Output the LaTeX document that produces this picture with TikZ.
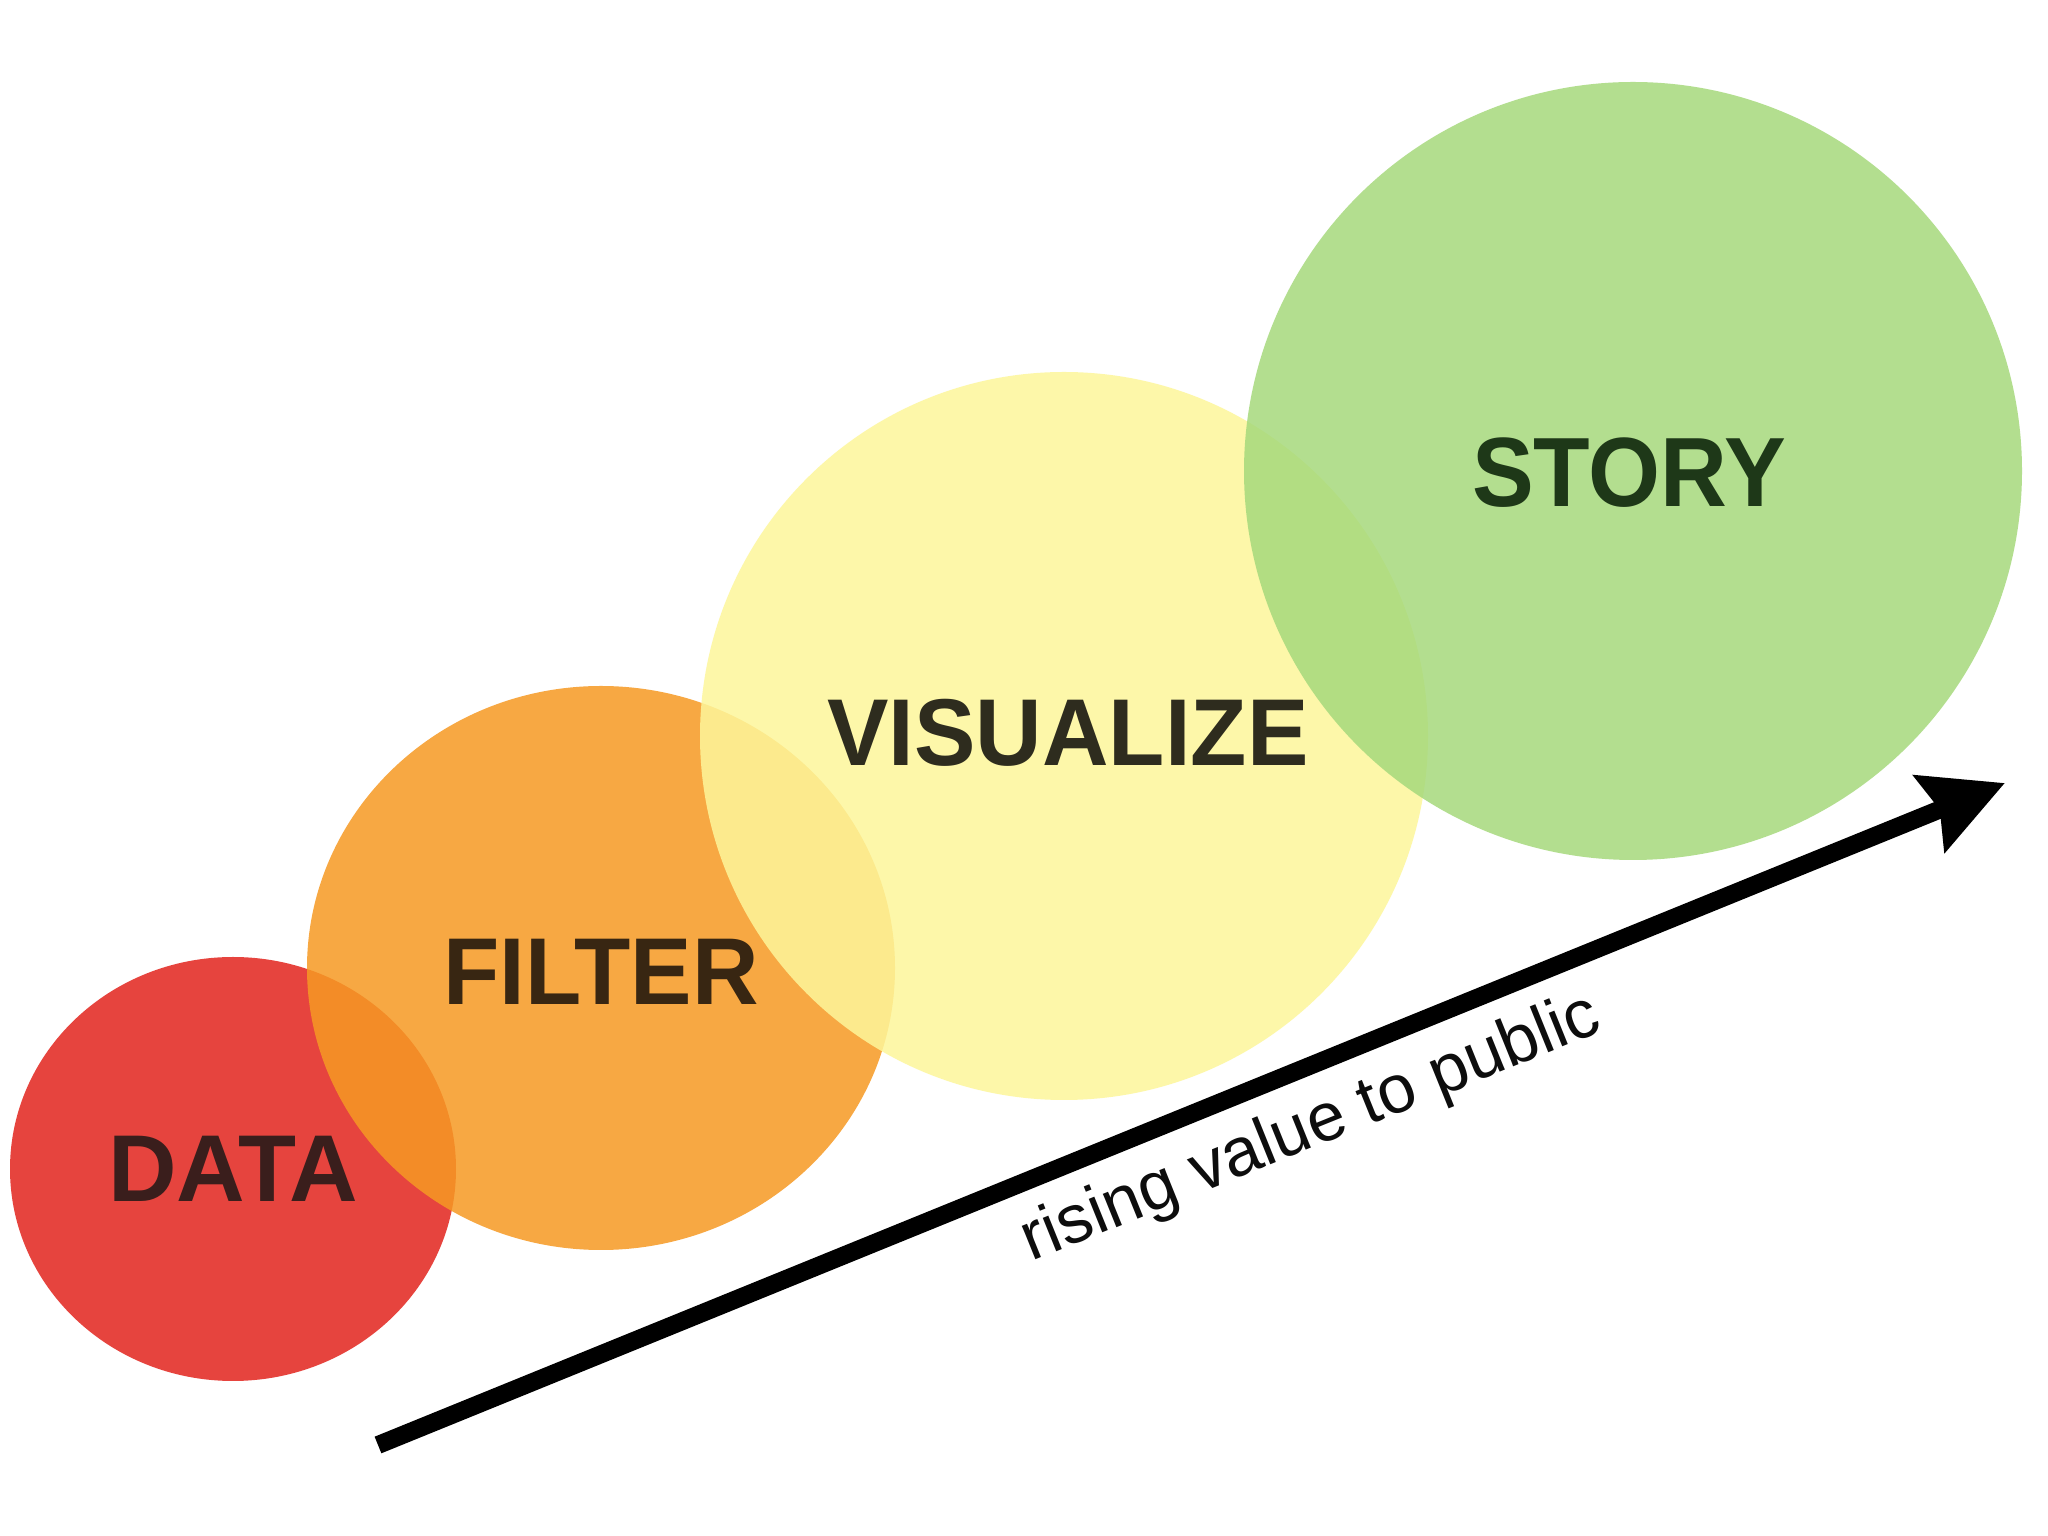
\documentclass[tikz,border=0pt]{standalone}
\usepackage{fontspec}
\usepackage{graphicx}
\setmainfont{Liberation Sans}
\usetikzlibrary{arrows.meta}
\definecolor{cred}{RGB}{226,36,29}
\definecolor{corange}{RGB}{246,153,35}
\definecolor{cyellow}{RGB}{253,246,154}
\definecolor{cgreen}{RGB}{166,217,124}
\definecolor{tdata}{RGB}{58,30,28}
\definecolor{tfilter}{RGB}{56,38,18}
\definecolor{tvis}{RGB}{46,44,30}
\definecolor{tstory}{RGB}{30,56,24}
\newcommand{\narrowtxt}[2][0.97]{\scalebox{#1}[1]{#2}}
\tikzset{
  bubble/.style={fill opacity=0.85, draw=none},
  biglabel/.style={font=\bfseries\fontsize{27}{30}\selectfont, inner sep=0pt},
  risearrow/.style={line width=5.1pt, -{Stealth[length=23pt, width=23pt, inset=3pt]}},
  risetext/.style={font=\fontsize{19.4}{22}\selectfont, text=black!95, anchor=base, inner sep=0pt, rotate=22}
}
\begin{document}
\begin{tikzpicture}[x=0.01cm, y=0.01cm]
\useasboundingbox (0,0) rectangle (2048,1536);
\fill[white] (0,0) rectangle (2048,1536);
% bubbles
\fill[bubble, cred] (233,367) ellipse [x radius=223, y radius=212];
\fill[bubble, corange] (601,568) ellipse [x radius=294, y radius=282];
\fill[bubble, cyellow] (1064,800) circle [radius=364];
\fill[bubble, cgreen] (1633,1065) circle [radius=389];
% labels
\node[biglabel, text=tdata] (data) at (233,367) {\narrowtxt[1]{DATA}};
\node[biglabel, text=tfilter] (filter) at (601,564) {\narrowtxt{FILTER}};
\node[biglabel, text=tvis] (vis) at (1068,803) {\narrowtxt{VISUALIZE}};
\node[biglabel, text=tstory, font=\bfseries\fontsize{28}{31}\selectfont] (story) at (1629,1063) {\narrowtxt[0.94]{STORY}};
% arrow
\coordinate (astart) at (378,91);
\coordinate (aend) at (2005,753);
\draw[risearrow] (astart) -- (aend);
\node[risetext] (rise) at (1318,390) {rising value to public};
\end{tikzpicture}
\end{document}
